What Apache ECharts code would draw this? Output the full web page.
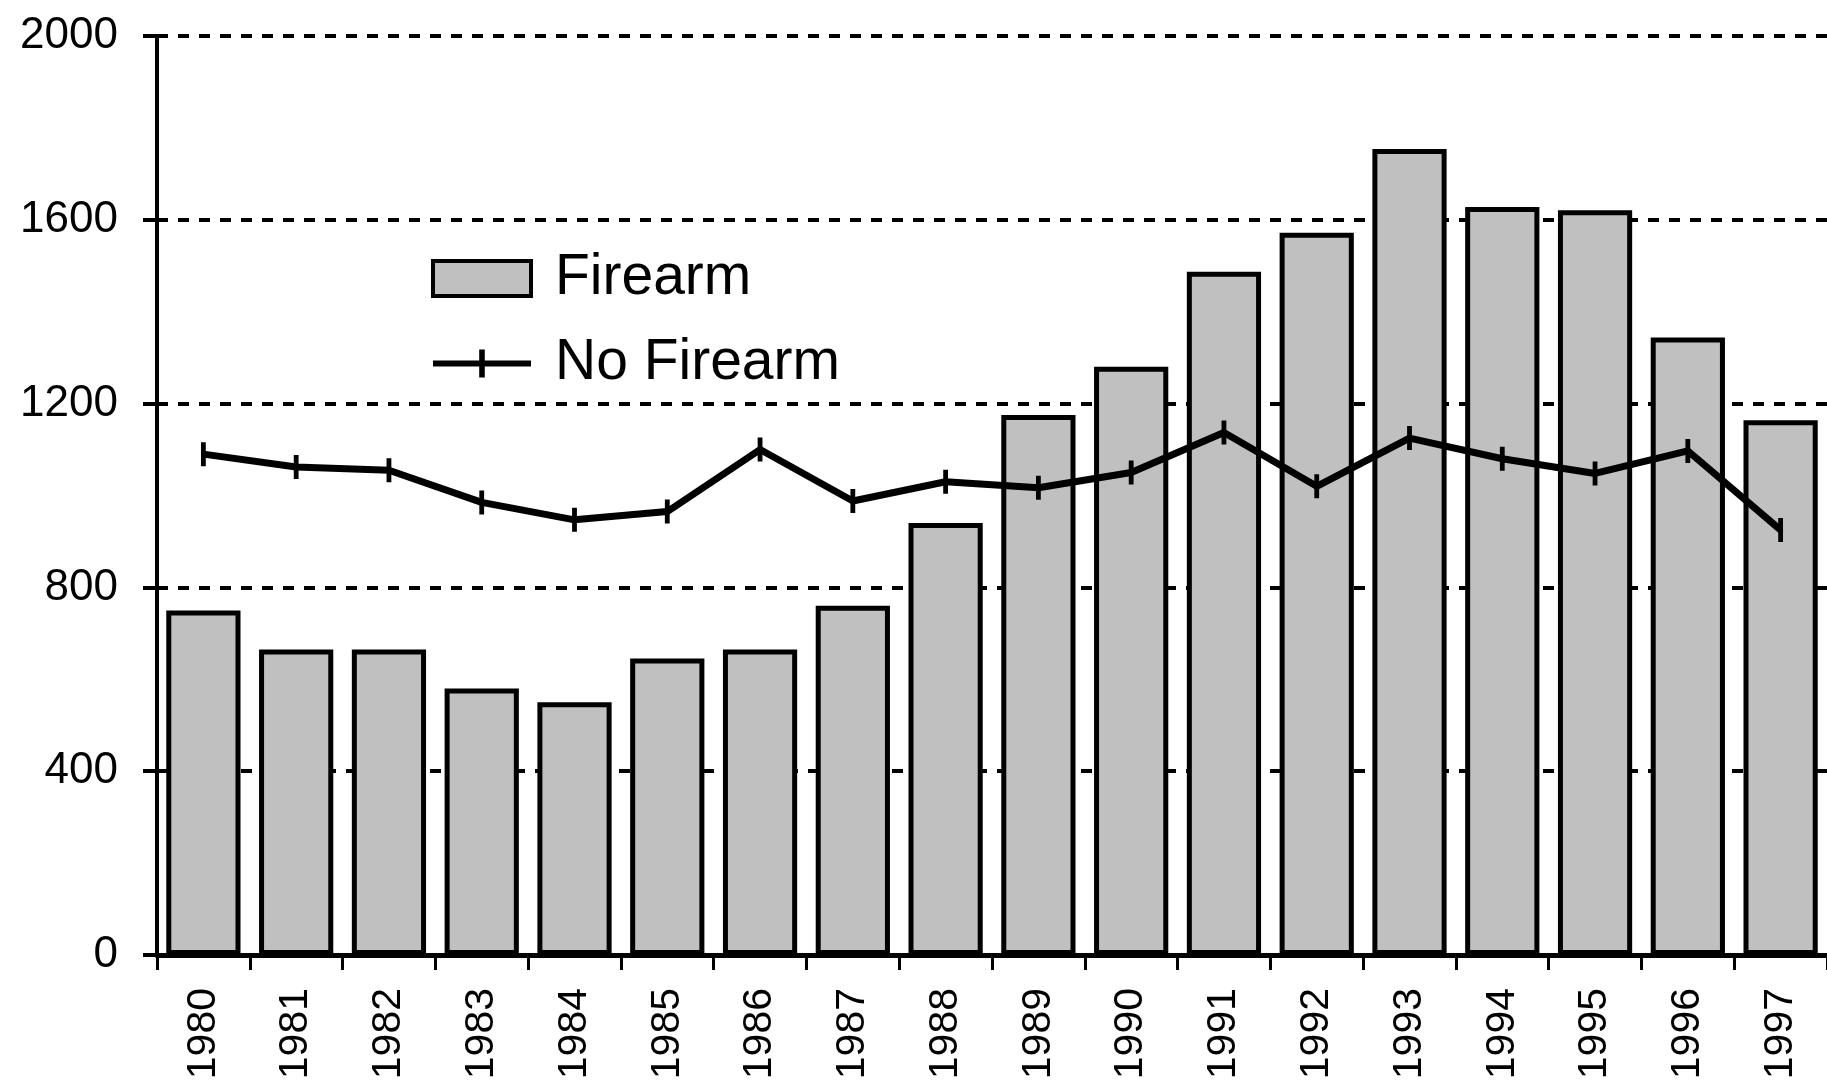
<!DOCTYPE html>
<html>
<head>
<meta charset="utf-8">
<style>
  html, body { margin: 0; padding: 0; background: #fff; }
  #chart { width: 1827px; height: 1081px; }
</style>
<script src="https://cdn.jsdelivr.net/npm/echarts@6/dist/echarts.min.js"></script>
</head>
<body>
<div id="chart"></div>
<script>
// Years on the category axis
const years = ['1980', '1981', '1982', '1983', '1984', '1985', '1986', '1987', '1988',
               '1989', '1990', '1991', '1992', '1993', '1994', '1995', '1996', '1997'];

// Firearm counts (bars)
const firearm = [750, 665, 665, 580, 550, 645, 665, 760, 940,
                 1175, 1280, 1487, 1572, 1754, 1628, 1621, 1344, 1164];

// No-firearm counts (line)
const noFirearm = [1090, 1062, 1055, 985, 947, 965, 1100, 988, 1030,
                   1017, 1050, 1137, 1020, 1125, 1080, 1048, 1097, 925];

// Value axis range and step
const yMin = 0, yMax = 2000, yStep = 400;

// Point marker: a short vertical bar centred in a square box
// (tiny corner specks keep the box square so it is never stretched sideways)
const tickMark = 'path://M0,0L0.05,0L0.05,0.05Z M19.95,19.95L20,19.95L20,20Z M8,0L12,0L12,20L8,20Z';

const chart = echarts.init(document.getElementById('chart'), null, { renderer: 'canvas' });

chart.setOption({
  animation: false,
  backgroundColor: '#ffffff',
  grid: {
    left: 157, right: 0, top: 36, bottom: 126,
    containLabel: false,
    outerBoundsMode: 'none'
  },
  legend: {
    orient: 'vertical',
    left: 430,
    top: 250,
    padding: 0,
    itemWidth: 98,
    itemHeight: 35,
    itemGap: 28,
    textStyle: {
      fontFamily: "'Liberation Sans', Arial, sans-serif",
      fontSize: 57,
      color: '#000',
      padding: [0, 0, 0, 19]
    },
    data: [
      { name: 'Firearm', icon: 'rect',
        itemStyle: { color: '#c0c0c0', borderColor: '#000', borderWidth: 4 } },
      { name: 'No Firearm',
        lineStyle: { color: '#000', width: 6 },
        itemStyle: { color: '#000', borderWidth: 0 } }
    ]
  },
  xAxis: {
    type: 'category',
    data: years,
    boundaryGap: true,
    axisLine: { show: true, lineStyle: { color: '#000', width: 5 } },
    axisTick: { show: true, length: 15, lineStyle: { color: '#000', width: 3 } },
    axisLabel: {
      rotate: 90,
      margin: 33,
      color: '#000',
      fontFamily: "'Liberation Sans', Arial, sans-serif",
      fontSize: 41
    },
    splitLine: { show: false }
  },
  yAxis: {
    type: 'value',
    min: yMin,
    max: yMax,
    interval: yStep,
    axisLine: { show: true, lineStyle: { color: '#000', width: 4 } },
    axisTick: { show: true, length: 14, lineStyle: { color: '#000', width: 4 } },
    axisLabel: {
      margin: 39,
      color: '#000',
      fontFamily: "'Liberation Sans', Arial, sans-serif",
      fontSize: 44,
      padding: [0, 0, 8, 0],
      formatter: function (v) { return String(v); }
    },
    splitLine: {
      show: true,
      lineStyle: { color: '#000', width: 4, type: [11, 10] }
    }
  },
  series: [
    {
      name: 'Firearm',
      type: 'bar',
      data: firearm,
      barCategoryGap: '20%',
      itemStyle: { color: '#c0c0c0', borderColor: '#000', borderWidth: 5 },
      z: 2
    },
    {
      name: 'No Firearm',
      type: 'line',
      data: noFirearm,
      symbol: tickMark,
      symbolSize: 24,
      itemStyle: { color: '#000', borderWidth: 0 },
      lineStyle: { color: '#000', width: 7 },
      z: 3
    }
  ]
});
</script>
</body>
</html>
